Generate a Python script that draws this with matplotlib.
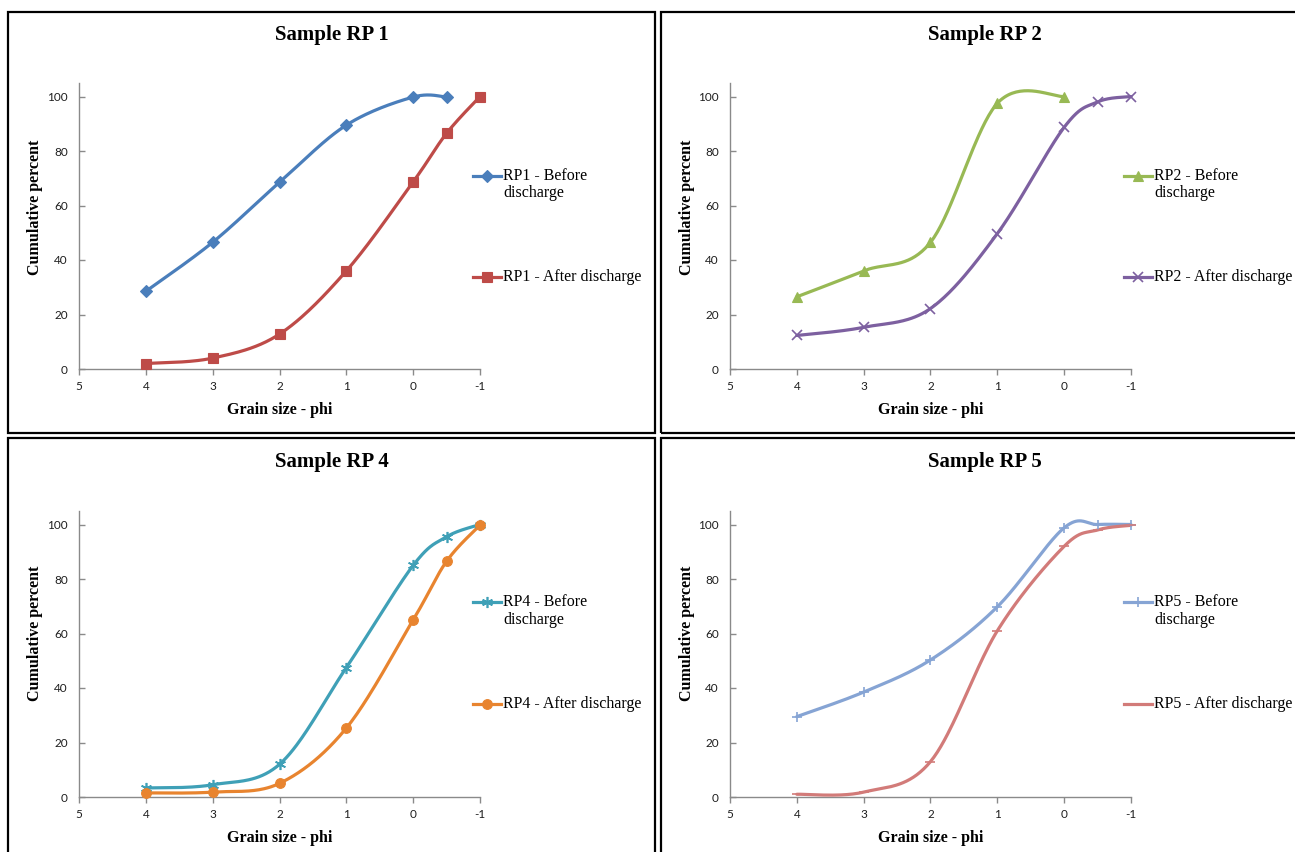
import numpy as np
import matplotlib
matplotlib.use("Agg")
import matplotlib.pyplot as plt
from matplotlib.lines import Line2D
from matplotlib.patches import Rectangle

plt.rcParams['axes.unicode_minus'] = False

# ---------------- data ----------------
phi_ticks = [5, 4, 3, 2, 1, 0, -1]

rp1_before_x = [4, 3, 2, 1, 0, -0.5]
rp1_before_y = [28.5, 46.5, 68.5, 89.5, 99.8, 99.8]
rp1_after_x = [4, 3, 2, 1, 0, -0.5, -1]
rp1_after_y = [2.0, 4.0, 12.8, 36.0, 68.7, 86.5, 100.0]

rp2_before_x = [4, 3, 2, 1, 0]
rp2_before_y = [26.5, 36.0, 46.5, 97.5, 100.0]
rp2_after_x = [4, 3, 2, 1, 0, -0.5, -1]
rp2_after_y = [12.3, 15.3, 22.2, 49.7, 88.7, 98.0, 100.0]

rp4_before_x = [4, 3, 2, 1, 0, -0.5, -1]
rp4_before_y = [3.3, 4.5, 12.0, 47.5, 85.0, 95.5, 100.0]
rp4_after_x = [4, 3, 2, 1, 0, -0.5, -1]
rp4_after_y = [1.5, 1.8, 5.0, 25.3, 65.0, 86.5, 99.8]

rp5_before_x = [4, 3, 2, 1, 0, -0.5, -1]
rp5_before_y = [29.5, 38.5, 50.3, 69.8, 98.8, 100.0, 100.0]
rp5_after_x = [4, 3, 2, 1, 0, -0.5, -1]
rp5_after_y = [1.0, 1.8, 13.0, 61.0, 92.0, 98.0, 99.7]

W, H = 1295, 852
fig = plt.figure(figsize=(W / 100, H / 100), dpi=100)

SERIF = ['Liberation Serif', 'DejaVu Serif']
TICKFONT = ['Lato', 'DejaVu Sans']


def smooth(xs, ys, n=40):
    """Excel-like smoothed line: cubic Bezier segments through the points."""
    P = np.column_stack([xs, ys]).astype(float)
    m = len(P)
    out = [P[0:1]]
    t = np.linspace(0, 1, n)[1:, None]
    for i in range(m - 1):
        p0 = P[i - 1] if i > 0 else P[i]
        p1, p2 = P[i], P[i + 1]
        p3 = P[i + 2] if i + 2 < m else P[i + 1]
        c1 = p1 + (p2 - p0) / 6.0
        c2 = p2 - (p3 - p1) / 6.0
        seg = ((1 - t) ** 3) * p1 + 3 * ((1 - t) ** 2) * t * c1 + 3 * (1 - t) * t ** 2 * c2 + t ** 3 * p2
        out.append(seg)
    C = np.vstack(out)
    return C[:, 0], C[:, 1]


def fx(px):
    return px / W


def fy(py):
    return 1 - py / H


# panel frames
frames = [(8, 12, 655, 433), (661, 12, 1302, 433), (8, 438, 655, 860), (661, 438, 1302, 860)]
for (x0, y0, x1, y1) in frames:
    fig.add_artist(Rectangle((fx(x0), fy(y1)), fx(x1) - fx(x0), fy(y0) - fy(y1),
                             transform=fig.transFigure, fill=False, edgecolor='black',
                             linewidth=1.6, clip_on=False))

asterisk = (6, 2, 0)

panels = [
    dict(title='Sample RP 1', ax=(79, 480, 369), title_xy=(332, 35), ylab_xy=(35, 207), xlab_y=410,
         leg_x=473, leg_y=(176, 193, 277),
         series=[(rp1_before_x, rp1_before_y, '#4A7EBB', 'D', 6, 'RP1 - Before', 'discharge'),
                 (rp1_after_x, rp1_after_y, '#BE4B48', 's', 7, 'RP1 - After discharge', None)]),
    dict(title='Sample RP 2', ax=(730, 1131, 369), title_xy=(985, 35), ylab_xy=(687, 207), xlab_y=410,
         leg_x=1124, leg_y=(176, 193, 277),
         series=[(rp2_before_x, rp2_before_y, '#98B954', '^', 7.5, 'RP2 - Before', 'discharge'),
                 (rp2_after_x, rp2_after_y, '#7D60A0', 'x', 7, 'RP2 - After discharge', None)]),
    dict(title='Sample RP 4', ax=(79, 480, 797), title_xy=(332, 462), ylab_xy=(35, 633), xlab_y=838,
         leg_x=473, leg_y=(602, 620, 704),
         series=[(rp4_before_x, rp4_before_y, '#3FA0B7', asterisk, 8, 'RP4 - Before', 'discharge'),
                 (rp4_after_x, rp4_after_y, '#E8842F', 'o', 7, 'RP4 - After discharge', None)]),
    dict(title='Sample RP 5', ax=(730, 1131, 797), title_xy=(985, 462), ylab_xy=(687, 633), xlab_y=838,
         leg_x=1124, leg_y=(602, 620, 704),
         series=[(rp5_before_x, rp5_before_y, '#86A4D4', '+', 7, 'RP5 - Before', 'discharge'),
                 (rp5_after_x, rp5_after_y, '#D27B79', '_', 7, 'RP5 - After discharge', None)]),
]

for p in panels:
    left, right, bottom = p['ax']
    top = bottom - 105 * 2.725
    ax = fig.add_axes([fx(left), fy(bottom), fx(right) - fx(left), fy(top) - fy(bottom)])
    ax.set_xlim(5, -1)
    ax.set_ylim(0, 105)
    ax.set_xticks(phi_ticks)
    ax.set_xticklabels([str(v) for v in phi_ticks])
    ax.set_yticks([0, 20, 40, 60, 80, 100])
    for s in ['top', 'right']:
        ax.spines[s].set_visible(False)
    for s in ['left', 'bottom']:
        ax.spines[s].set_color('#8a8a8a')
        ax.spines[s].set_linewidth(1.0)
    ax.tick_params(axis='x', direction='out', length=4, width=1, color='#8a8a8a', pad=5,
                   labelsize=8.5, labelcolor='#1e1e1e')
    ax.tick_params(axis='y', direction='in', length=4, width=1, color='#8a8a8a', pad=8,
                   labelsize=8.5, labelcolor='#1e1e1e')
    for lab in ax.get_xticklabels() + ax.get_yticklabels():
        lab.set_fontfamily(TICKFONT)
    ax.patch.set_alpha(0)

    for (xs, ys, col, mk, ms, l1, l2) in p['series']:
        sx, sy = smooth(xs, ys)
        ax.plot(sx, sy, color=col, lw=2.3, solid_capstyle='round', clip_on=False, zorder=3)
        mew = 1.2 if mk in ('x', '+', '_', asterisk) else 0.8
        ax.plot(xs, ys, linestyle='none', marker=mk, ms=ms, color=col, mec=col, mew=mew,
                clip_on=False, zorder=4)

    # title and axis labels
    fig.text(fx(p['title_xy'][0]), fy(p['title_xy'][1]), p['title'], ha='center', va='center',
             fontsize=15, fontweight='bold', family=SERIF)
    fig.text(fx(p['ylab_xy'][0]), fy(p['ylab_xy'][1]), 'Cumulative percent', ha='center', va='center',
             rotation=90, fontsize=11.5, fontweight='bold', family=SERIF)
    fig.text(fx((left + right) / 2), fy(p['xlab_y']), 'Grain size - phi', ha='center', va='center',
             fontsize=11.5, fontweight='bold', family=SERIF)

    # legend (Excel style: key aligned with first line of label)
    lx = p['leg_x']
    ly1, ly2, ly3 = p['leg_y']
    for (xs, ys, col, mk, ms, l1, l2), yy in zip(p['series'], (ly1, ly3)):
        fig.add_artist(Line2D([fx(lx), fx(lx + 28)], [fy(yy), fy(yy)], transform=fig.transFigure,
                              color=col, lw=2.3))
        mew = 1.2 if mk in ('x', '+', '_', asterisk) else 0.8
        fig.add_artist(Line2D([fx(lx + 14)], [fy(yy)], transform=fig.transFigure, linestyle='none',
                              marker=mk, ms=ms, color=col, mec=col, mew=mew))
        fig.text(fx(lx + 30), fy(yy), l1, ha='left', va='center', fontsize=11.5, family=SERIF)
        if l2:
            fig.text(fx(lx + 30), fy(ly2), l2, ha='left', va='center', fontsize=11.5, family=SERIF)

fig.savefig('out.png', dpi=100)
